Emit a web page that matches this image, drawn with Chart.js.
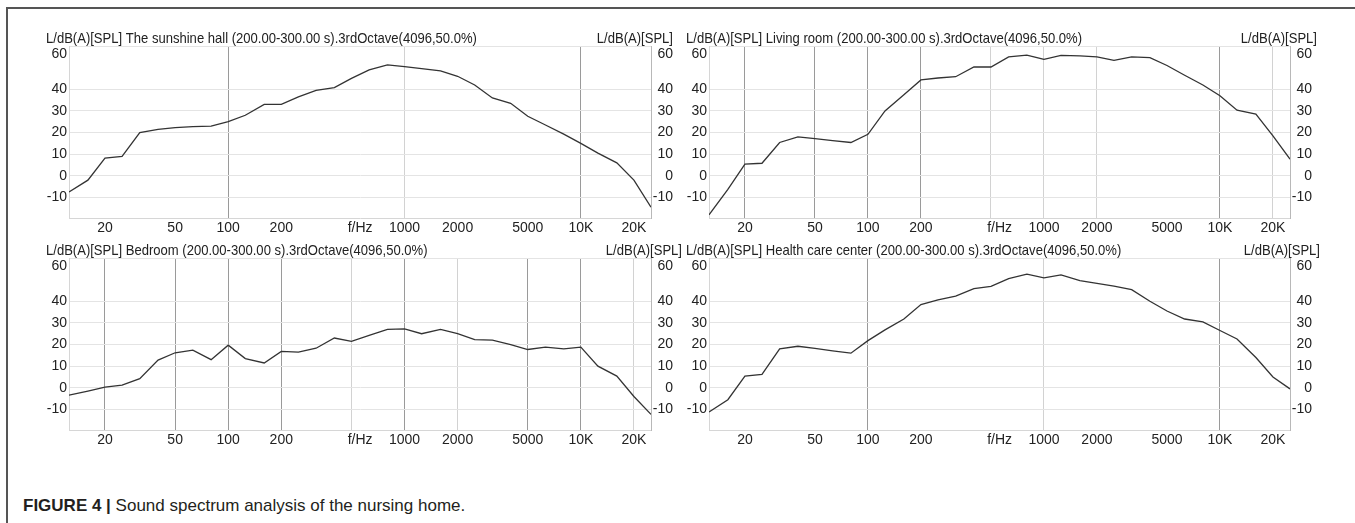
<!DOCTYPE html>
<html>
<head>
<meta charset="utf-8">
<script src="https://cdn.jsdelivr.net/npm/chart.js@4.4.0/dist/chart.umd.min.js"></script>
<style>
  body { margin: 0; background: #fff; }
  #fig { position: relative; width: 1355px; height: 523px; overflow: hidden; }
  #frame { position: absolute; left: 6px; top: 7px; width: 1400px; height: 600px;
           border-left: 2px solid #555; border-top: 2px solid #555; }
  canvas { position: absolute; }
  #caption { position: absolute; left: 23px; top: 496px; font-family: 'Liberation Sans', sans-serif;
             font-size: 17px; line-height: 20px; color: #231f20; }
</style>
</head>
<body>
<div id="fig">
  <div id="frame"></div>
  <canvas id="c0" width="684" height="224" style="left:0px;top:16px"></canvas>
  <canvas id="c1" width="671" height="224" style="left:684px;top:16px"></canvas>
  <canvas id="c2" width="684" height="224" style="left:0px;top:228px"></canvas>
  <canvas id="c3" width="671" height="224" style="left:684px;top:228px"></canvas>
  <div id="caption"><b>FIGURE 4 |</b> Sound spectrum analysis of the nursing home.</div>
</div>
<script>
// 1/3 octave band centres (Hz)
const freqs = [12.5, 16, 20, 25, 31.5, 40, 50, 63, 80, 100, 125, 160, 200, 250, 315, 400, 500, 630, 800,
  1000, 1250, 1600, 2000, 2500, 3150, 4000, 5000, 6300, 8000, 10000, 12500, 16000, 20000, 25000];

// levels dB(A)
const sunshineHall = [-7.5, -2, 8.2, 9, 20, 21.5, 22.3, 22.7, 23, 25, 28, 33, 33, 36.5, 39.5, 40.8, 45, 49, 51.3,
  50.5, 49.5, 48.5, 46, 42, 36, 33.5, 27.5, 23.5, 19.3, 15, 10.5, 6, -2, -14.5];
const livingRoom = [-18, -6.3, 5.4, 5.8, 15.4, 18, 17.2, 16.3, 15.4, 19.2, 30, 37.5, 44.3, 45.2, 45.8, 50.3, 50.3, 55, 55.8,
  53.8, 55.7, 55.4, 55, 53.4, 55, 54.6, 51, 46.5, 42, 37, 30.3, 28.5, 18.5, 7.7];
const bedroom = [-3.4, -1.5, 0.3, 1.2, 4.2, 12.8, 16.2, 17.4, 13, 19.7, 13.5, 11.5, 16.8, 16.5, 18.3, 23, 21.5, 24.2, 27,
  27.2, 25, 27, 25, 22.3, 22, 20, 17.7, 18.8, 18, 18.8, 10, 5.4, -4, -12.3];
const healthCare = [-11.2, -5.5, 5.4, 6.2, 18, 19.2, 18.2, 17.1, 16, 21.8, 26.8, 31.8, 38.5, 40.6, 42.4, 45.8, 46.9, 50.5, 52.5,
  50.8, 52.2, 49.5, 48.3, 47, 45.4, 40, 35.5, 31.8, 30.5, 26.5, 22.6, 14, 5, -0.5];

const yTicks = [60, 40, 30, 20, 10, 0, -10];
const xTicks = [20, 50, 100, 200, 500, 560, 1000, 2000, 5000, 10000, 20000];
const xTickLabels = ['20', '50', '100', '200', '', 'f/Hz', '1000', '2000', '5000', '10K', '20K'];

const FONT = "'Liberation Sans', sans-serif";
Chart.defaults.font.family = FONT;
Chart.defaults.font.size = 14;
Chart.defaults.color = '#222';

// canvas box, wanted plot box, and which vertical grid lines show in each panel
const panels = [
  { id: 'c0', name: 'The sunshine hall', values: sunshineHall, left: 0, top: 16, w: 684, h: 224,
    plotLeft: 69, plotRight: 651, plotTop: 46, rightGap: 22, dark: [100, 10000], light: [1000] },
  { id: 'c1', name: 'Living room', values: livingRoom, left: 684, top: 16, w: 671, h: 224,
    plotLeft: 709, plotRight: 1290, plotTop: 46, rightGap: 27, dark: [20, 50, 100, 200, 10000], light: [500, 1000, 2000, 20000] },
  { id: 'c2', name: 'Bedroom', values: bedroom, left: 0, top: 228, w: 684, h: 224,
    plotLeft: 69, plotRight: 651, plotTop: 258, rightGap: 31, dark: [20, 50, 100, 200, 1000, 5000, 10000], light: [500, 2000, 20000] },
  { id: 'c3', name: 'Health care center', values: healthCare, left: 684, top: 228, w: 671, h: 224,
    plotLeft: 709, plotRight: 1290, plotTop: 258, rightGap: 30, dark: [100, 10000], light: [1000] }
];
const PLOT_H = 172, XAXIS_H = 20, RAXIS_W = 22;

// panel heading: long title on the left, axis unit on the right (condensed a bit like the original)
const panelTitles = {
  id: 'panelTitles',
  afterDraw(chart, args, opts) {
    const { ctx, chartArea } = chart;
    const y = chartArea.top - 7;
    const sx = 0.9;
    ctx.save();
    ctx.font = '14.5px ' + FONT;
    ctx.fillStyle = '#222';
    ctx.textBaseline = 'middle';
    ctx.scale(sx, 1);
    ctx.textAlign = 'left';
    ctx.fillText(opts.text, (chartArea.left - 23) / sx, y);
    ctx.textAlign = 'right';
    ctx.fillText('L/dB(A)[SPL]', (chartArea.right + opts.rightGap) / sx, y);
    ctx.restore();
  }
};

panels.forEach(function (p) {
  const plotBottom = p.plotTop + PLOT_H;
  const yTickSet = s => { s.ticks = yTicks.map(v => ({ value: v })); };
  const yLabel = v => (v === 60 ? ['', '60'] : String(v));

  new Chart(document.getElementById(p.id), {
    type: 'line',
    data: {
      datasets: [{
        data: freqs.map((f, i) => ({ x: f, y: p.values[i] })),
        borderColor: '#333',
        borderWidth: 1.3,
        pointRadius: 0,
        tension: 0,
        fill: false
      }]
    },
    options: {
      responsive: false,
      animation: false,
      layout: {
        padding: {
          top: p.plotTop - p.top,
          left: 0,
          right: p.w - (p.plotRight - p.left) - RAXIS_W,
          bottom: p.top + p.h - plotBottom - XAXIS_H
        }
      },
      plugins: {
        legend: { display: false },
        tooltip: { enabled: false },
        panelTitles: { text: 'L/dB(A)[SPL] ' + p.name + ' (200.00-300.00 s).3rdOctave(4096,50.0%)', rightGap: p.rightGap }
      },
      scales: {
        x: {
          type: 'logarithmic',
          min: 12.5,
          max: 25000,
          afterBuildTicks: s => { s.ticks = xTicks.map(v => ({ value: v })); },
          afterFit: s => { s.height = XAXIS_H; },
          ticks: { autoSkip: false, maxRotation: 0, padding: 2, callback: (v, i) => xTickLabels[i] },
          grid: {
            drawTicks: false,
            color: c => {
              const v = c.tick ? c.tick.value : null;
              if (p.dark.includes(v)) return '#9a9a9a';
              if (p.light.includes(v)) return '#d2d2d2';
              return 'rgba(0,0,0,0)';
            }
          },
          border: { color: '#d6d6d6' }
        },
        y: {
          position: 'left',
          min: -19.5,
          max: 60,
          afterBuildTicks: yTickSet,
          afterFit: s => { s.width = p.plotLeft - p.left; },
          ticks: { autoSkip: false, padding: 2, callback: yLabel },
          grid: { drawTicks: false, color: '#e4e4e4' },
          border: { color: '#d6d6d6' }
        },
        y2: {
          position: 'right',
          min: -19.5,
          max: 60,
          afterBuildTicks: yTickSet,
          afterFit: s => { s.width = RAXIS_W; },
          ticks: { autoSkip: false, padding: 0, crossAlign: 'far', callback: yLabel },
          grid: { display: false, drawTicks: false },
          border: { color: '#b8b8b8' }
        }
      }
    },
    plugins: [panelTitles]
  });
});
</script>
</body>
</html>
